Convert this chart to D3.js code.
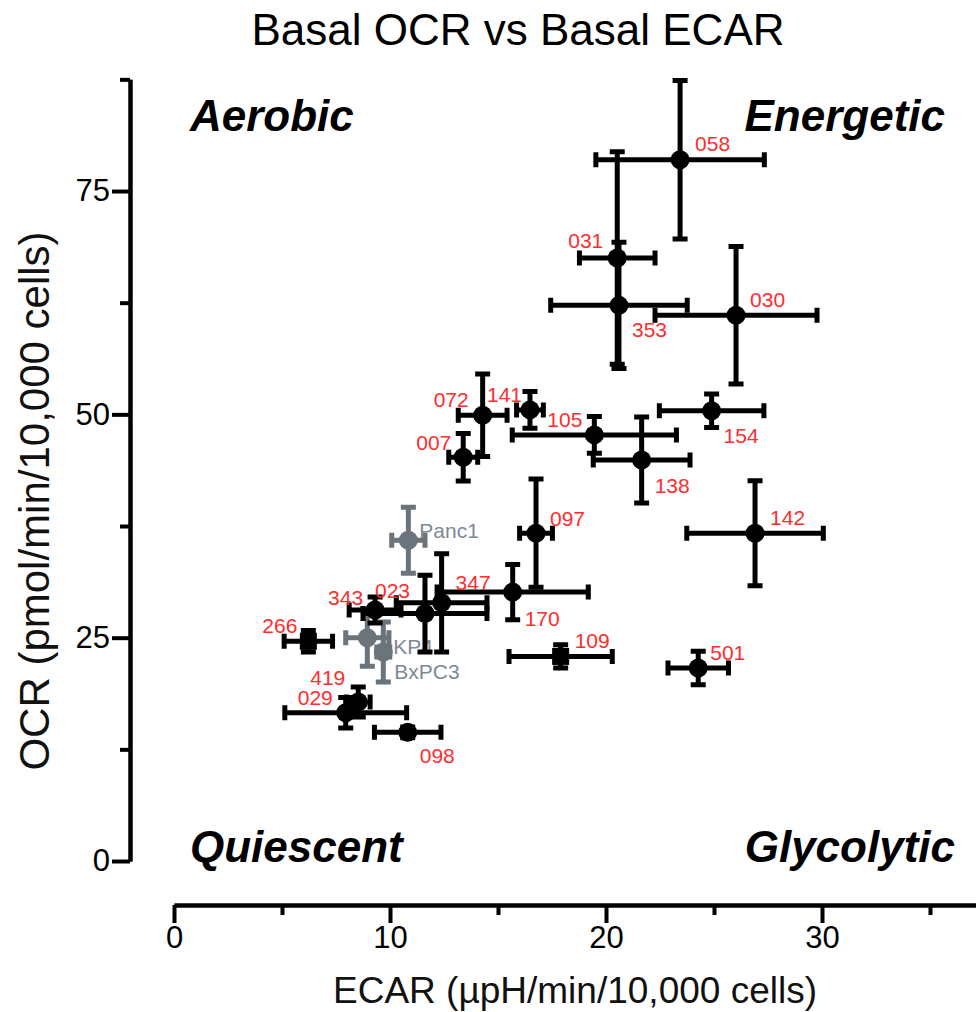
<!DOCTYPE html>
<html>
<head>
<meta charset="utf-8">
<script src="https://cdn.jsdelivr.net/npm/d3@7"></script>
<style>
  body { margin: 0; background: #fff; }
  svg { display: block; font-family: "Liberation Sans", Arial, sans-serif; }
</style>
</head>
<body>
<div id="chart"></div>
<script>
// patient-derived samples
const names = ["058","031","353","030","072","141","105","007","154","138","097","142","343","023","347","170","266","109","419","029","501","098"];
const ecar = [23.43, 20.52, 20.6, 26.02, 14.29, 16.48, 19.46, 13.39, 24.89, 21.65, 16.76, 26.9, 9.31, 11.62, 12.39, 15.68, 6.22, 17.9, 8.53, 7.95, 24.27, 10.82];
const ocr = [78.5, 67.5, 62.2, 61.1, 49.9, 50.5, 47.7, 45.2, 50.4, 44.9, 36.7, 36.7, 28.1, 27.7, 28.9, 30.1, 24.6, 22.9, 17.8, 16.6, 21.6, 14.4];
const ecarErr = [3.9, 1.75, 3.16, 3.75, 1.13, 0.62, 3.8, 0.67, 2.42, 2.24, 0.76, 3.16, 1.2, 2.87, 2.1, 3.5, 1.12, 2.39, 0.55, 2.82, 1.4, 1.54];
const ocrErr = [8.86, 11.9, 7.07, 7.7, 4.63, 2.05, 2.05, 2.65, 1.87, 4.81, 6.06, 5.88, 1.46, 4.3, 5.5, 3.08, 1.2, 1.3, 1.68, 1.7, 1.87, 0.6];
const squares = ["266", "109"];

// cell lines
const lineNames = ["Panc1", "KP4", "BxPC3"];
const lineEcar = [10.85, 8.95, 9.69];
const lineOcr = [35.9, 25.0, 23.4];
const lineEcarErr = [0.77, 1.0, 0.3];
const lineOcrErr = [3.7, 3.2, 3.36];

const yTicks = [0, 25, 50, 75];
const yMinor = [12.5, 37.5, 62.5, 87.5];
const xTicks = [0, 10, 20, 30];
const xMinor = [5, 15, 25, 35];

// label offsets from the point centre (text start, baseline)
const labelPos = {
  "058": [15, -9], "031": [-49, -10], "353": [13, 32], "030": [14, -8],
  "072": [-49, -8], "141": [-43, -8], "105": [-47, -8], "007": [-47, -7],
  "154": [12, 32], "138": [13, 33], "097": [14, -7], "142": [15, -8],
  "343": [-47, -5], "023": [-50, -16], "347": [14, -13], "170": [12, 34],
  "266": [-46, -8], "109": [14, -8], "419": [-48, -17], "029": [-48, -8],
  "501": [12, -8], "098": [12, 31],
  "Panc1": [11, -2], "KP4": [26, 16], "BxPC3": [11, 27]
};

const W = 976, H = 1012;
const svg = d3.select("#chart").append("svg")
  .attr("width", W)
  .attr("height", H);

const x = d3.scaleLinear().domain([0, 37.5]).range([174, 174 + 37.5 * 21.6]);
const y = d3.scaleLinear().domain([0, 87.5]).range([861, 861 - 87.5 * 8.933]);

// axes
function styleAxis(g) {
  g.selectAll("path, line").attr("stroke", "#000").attr("stroke-width", 4);
  g.selectAll("text").attr("fill", "#000").style("font-size", "31px")
    .style("font-family", "'Liberation Sans', Arial, sans-serif");
}

svg.append("g")
  .attr("transform", "translate(130,0)")
  .call(d3.axisLeft(y).tickValues(yMinor).tickSize(10).tickSizeOuter(0).tickFormat(""))
  .call(styleAxis);
svg.append("g")
  .attr("transform", "translate(130,0)")
  .call(d3.axisLeft(y).tickValues(yTicks).tickSize(18).tickSizeOuter(0).tickPadding(2))
  .call(styleAxis);

svg.append("g")
  .attr("transform", "translate(0,905)")
  .call(d3.axisBottom(x).tickValues(xMinor).tickSize(10).tickSizeOuter(0).tickFormat(""))
  .call(styleAxis);
svg.append("g")
  .attr("transform", "translate(0,905)")
  .call(d3.axisBottom(x).tickValues(xTicks).tickSize(18).tickSizeOuter(0).tickPadding(3))
  .call(styleAxis);

// titles
svg.append("text")
  .attr("x", 518).attr("y", 45)
  .attr("text-anchor", "middle")
  .style("font-size", "44px")
  .text("Basal OCR vs Basal ECAR");

svg.append("text")
  .attr("x", 575).attr("y", 1003)
  .attr("text-anchor", "middle")
  .style("font-size", "37px")
  .attr("fill", "#111")
  .text("ECAR (µpH/min/10,000 cells)");

svg.append("text")
  .attr("transform", "translate(49,501) rotate(-90)")
  .attr("text-anchor", "middle")
  .style("font-size", "42px")
  .attr("fill", "#111")
  .text("OCR (pmol/min/10,000 cells)");

// quadrant names
const quad = [
  { t: "Aerobic", x: 190, y: 131, a: "start" },
  { t: "Energetic", x: 945, y: 131, a: "end" },
  { t: "Quiescent", x: 190, y: 862, a: "start" },
  { t: "Glycolytic", x: 955, y: 862, a: "end" }
];
svg.selectAll(".quad").data(quad).enter().append("text")
  .attr("x", d => d.x).attr("y", d => d.y)
  .attr("text-anchor", d => d.a)
  .style("font-size", "44px")
  .style("font-weight", "bold")
  .style("font-style", "italic")
  .text(d => d.t);

const samples = names.map((n, i) => ({ name: n, x: ecar[i], y: ocr[i], xe: ecarErr[i], ye: ocrErr[i] }));
const lines = lineNames.map((n, i) => ({ name: n, x: lineEcar[i], y: lineOcr[i], xe: lineEcarErr[i], ye: lineOcrErr[i] }));

const cap = 7.5;

function drawPoints(data, color, labelColor) {
  const g = svg.append("g");
  data.forEach(d => {
    const cx = x(d.x), cy = y(d.y);
    const x0 = x(d.x - d.xe), x1 = x(d.x + d.xe);
    const y0 = y(d.y - d.ye), y1 = y(d.y + d.ye);
    const p = d3.path();
    p.moveTo(x0, cy); p.lineTo(x1, cy);
    p.moveTo(x0, cy - cap); p.lineTo(x0, cy + cap);
    p.moveTo(x1, cy - cap); p.lineTo(x1, cy + cap);
    p.moveTo(cx, y0); p.lineTo(cx, y1);
    p.moveTo(cx - cap, y0); p.lineTo(cx + cap, y0);
    p.moveTo(cx - cap, y1); p.lineTo(cx + cap, y1);
    g.append("path")
      .attr("d", p.toString())
      .attr("fill", "none")
      .attr("stroke", color)
      .attr("stroke-width", 5);
    if (squares.includes(d.name)) {
      g.append("rect")
        .attr("x", cx - 8.5).attr("y", cy - 8.5)
        .attr("width", 17).attr("height", 17)
        .attr("fill", color);
    } else {
      g.append("circle")
        .attr("cx", cx).attr("cy", cy).attr("r", 9.5)
        .attr("fill", color);
    }
  });
  g.selectAll("text").data(data).enter().append("text")
    .attr("x", d => x(d.x) + labelPos[d.name][0])
    .attr("y", d => y(d.y) + labelPos[d.name][1])
    .attr("fill", labelColor)
    .style("font-size", "21px")
    .text(d => d.name);
}

drawPoints(lines, "#6b737b", "#7d8995");
drawPoints(samples, "#000", "#ff2d2d");
</script>
</body>
</html>
